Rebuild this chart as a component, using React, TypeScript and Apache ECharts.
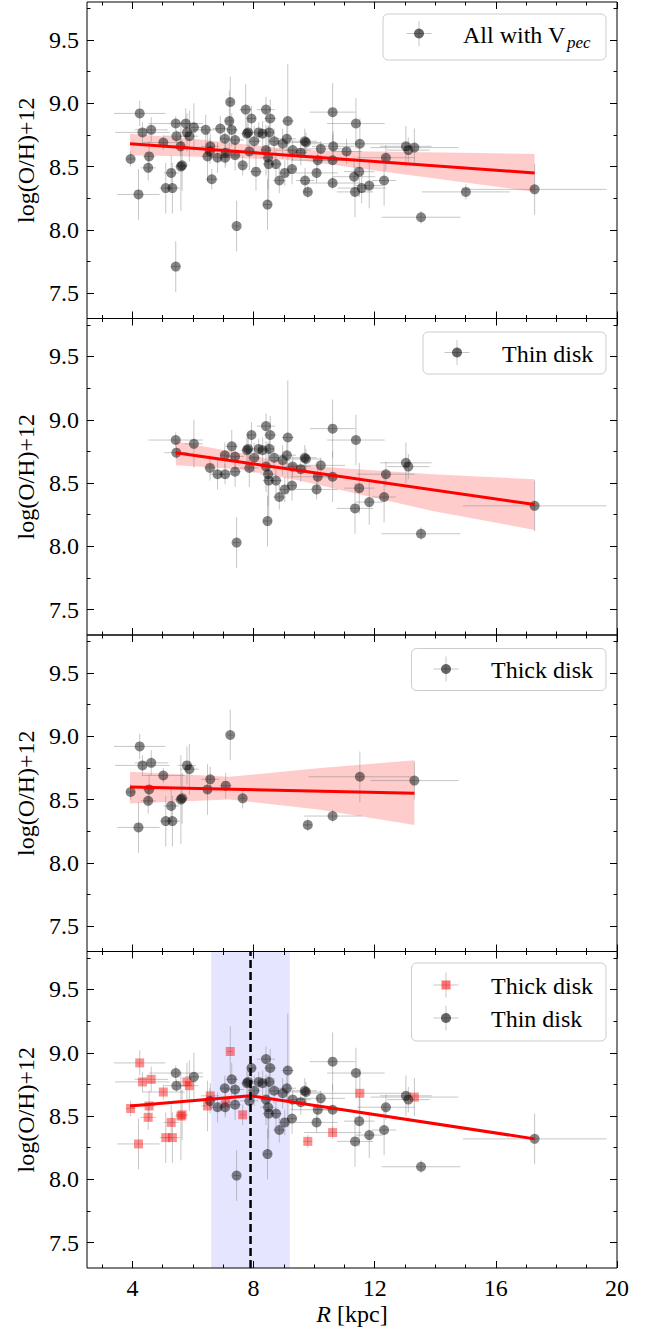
import React, { useEffect, useRef } from 'react';
import * as echarts from 'echarts';

const FONT = "'Liberation Serif', 'Times New Roman', Times, serif";

// Each star: [R (kpc), log(O/H)+12, error in R, error in log(O/H)+12]
const thinDisk: number[][] = [
  [5.43, 8.84, 0.9, 0.06], [5.45, 8.74, 0.4, 0.05], [6.03, 8.81, 0.3, 0.19], [6.56, 8.62, 0.2, 0.1],
  [6.81, 8.57, 0.25, 0.12], [7.06, 8.57, 0.2, 0.08], [7.05, 8.72, 0.15, 0.1], [7.28, 8.79, 0.2, 0.13],
  [7.39, 8.59, 0.2, 0.12], [7.44, 8.03, 0.1, 0.2], [7.39, 8.71, 0.3, 0.1], [7.78, 8.76, 0.2, 0.1],
  [7.82, 8.77, 0.15, 0.12], [7.86, 8.62, 0.3, 0.15], [7.93, 8.88, 0.15, 0.1], [8.02, 8.7, 0.2, 0.12],
  [8.17, 8.77, 0.25, 0.08], [8.3, 8.76, 0.2, 0.1], [8.41, 8.95, 0.3, 0.1], [8.55, 8.88, 0.2, 0.15],
  [8.52, 8.77, 0.15, 0.1], [8.41, 8.63, 0.2, 0.2], [8.48, 8.57, 0.25, 0.25], [8.5, 8.52, 0.2, 0.3],
  [8.74, 8.52, 0.2, 0.1], [8.46, 8.2, 0.15, 0.2], [8.68, 8.7, 0.2, 0.1], [8.96, 8.68, 0.25, 0.12],
  [9.1, 8.72, 0.3, 0.1], [9.13, 8.86, 0.2, 0.45], [8.85, 8.39, 0.2, 0.1], [9.03, 8.45, 0.2, 0.1],
  [9.27, 8.48, 0.15, 0.12], [9.29, 8.63, 0.6, 0.08], [9.56, 8.61, 0.2, 0.1], [9.69, 8.7, 0.4, 0.1],
  [9.73, 8.69, 0.5, 0.08], [10.22, 8.64, 0.8, 0.06], [10.08, 8.45, 0.7, 0.08], [10.12, 8.55, 0.9, 0.1],
  [10.61, 8.93, 0.75, 0.23], [10.61, 8.55, 0.6, 0.2], [11.38, 8.84, 0.95, 0.2], [11.49, 8.46, 0.5, 0.2],
  [11.35, 8.3, 0.6, 0.2], [11.82, 8.35, 0.45, 0.18], [12.31, 8.39, 0.4, 0.2], [12.37, 8.57, 0.95, 0.1],
  [13.03, 8.66, 0.85, 0.16], [13.11, 8.63, 0.7, 0.1], [13.53, 8.1, 1.3, 0.05], [17.28, 8.32, 2.37, 0.2],
];

const thickDisk: number[][] = [
  [3.94, 8.56, 0.15, 0.06], [4.24, 8.92, 0.85, 0.1], [4.33, 8.77, 0.9, 0.08], [4.62, 8.79, 0.55, 0.1],
  [4.55, 8.58, 0.2, 0.12], [4.52, 8.49, 0.25, 0.1], [4.2, 8.28, 0.7, 0.2], [5.02, 8.69, 0.7, 0.06],
  [5.28, 8.45, 0.25, 0.14], [5.1, 8.33, 0.2, 0.2], [5.32, 8.33, 0.25, 0.2], [5.6, 8.5, 0.2, 0.35],
  [5.64, 8.51, 0.2, 0.2], [5.8, 8.77, 0.3, 0.15], [5.88, 8.74, 0.3, 0.2], [6.48, 8.58, 0.2, 0.2],
  [6.57, 8.66, 0.3, 0.1], [7.08, 8.61, 0.2, 0.1], [7.23, 9.01, 0.1, 0.2], [7.64, 8.51, 0.1, 0.08],
  [9.79, 8.3, 0.15, 0.05], [10.61, 8.37, 0.95, 0.05], [11.51, 8.68, 1.7, 0.2], [13.31, 8.65, 1.45, 0.15],
];

// stars of the full sample that belong to neither disk
const unassigned: number[][] = [
  [5.59, 8.66, 0.3, 0.08], [5.76, 8.84, 0.35, 0.12], [5.43, 7.71, 0.15, 0.2], [6.42, 8.79, 0.4, 0.12],
  [6.62, 8.4, 0.2, 0.08], [6.9, 8.8, 0.25, 0.1], [7.2, 8.86, 0.15, 0.24], [7.74, 8.95, 0.2, 0.2],
  [8.08, 8.46, 0.2, 0.15], [9.7, 8.39, 0.3, 0.1], [10.63, 8.66, 0.7, 0.12], [11.07, 8.62, 0.5, 0.1],
  [11.32, 8.42, 0.7, 0.15], [11.57, 8.33, 0.8, 0.12], [15.01, 8.3, 1.45, 0.06],
];

// gradient fits and their confidence bands
const allFitR = [3.92, 17.28];
const allFitOH = [8.68, 8.45];
const allBandR = [3.92, 6.0, 9.5, 12.0, 17.28];
const allBandHi = [8.76, 8.72, 8.63, 8.62, 8.6];
const allBandLo = [8.59, 8.58, 8.55, 8.47, 8.3];

const thinFitR = [5.43, 17.28];
const thinFitOH = [8.74, 8.33];
const thinBandR = [5.43, 7.5, 9.5, 13.9, 17.28];
const thinBandHi = [8.83, 8.74, 8.64, 8.57, 8.53];
const thinBandLo = [8.64, 8.61, 8.52, 8.28, 8.13];

const thickFitR = [3.92, 13.31];
const thickFitOH = [8.6, 8.55];
const thickBandR = [3.92, 7.2, 10.2, 13.31];
const thickBandHi = [8.72, 8.68, 8.75, 8.81];
const thickBandLo = [8.47, 8.5, 8.42, 8.3];

const brokenFitR = [3.92, 7.9, 17.28];
const brokenFitOH = [8.58, 8.66, 8.32];

const solarR = 7.9;
const solarRRange = [6.6, 9.2];

const xTicksMajor = [4, 8, 12, 16, 20];
const xTicksMinor = [3, 5, 6, 7, 9, 10, 11, 13, 14, 15, 17, 18, 19];
const yTicksMajor = [7.5, 8.0, 8.5, 9.0, 9.5];
const yTicksMinor = [7.75, 8.25, 8.75, 9.25, 9.75];

const X_MIN = 2.5;
const X_MAX = 20;
const Y_MIN = 7.3;
const Y_MAX = 9.8;

const GRID_LEFT = 87;
const GRID_RIGHT = 40;
const PANEL_TOPS = [2, 318.5, 635, 951.5];
const PANEL_H = 316.5;

const PT_COLOR = 'rgba(0,0,0,0.6)';
const SQ_COLOR = 'rgba(255,0,0,0.55)';
const ERR_COLOR = 'rgba(128,128,128,0.45)';
const FIT_COLOR = '#ff0000';

function pairs(R: number[], V: number[]) {
  return R.map((r, i) => [r, V[i]]);
}

function errorSeries(g: number, data: number[][]) {
  return {
    type: 'custom',
    xAxisIndex: 4 * g,
    yAxisIndex: 4 * g,
    silent: true,
    clip: true,
    z: 2,
    encode: { x: 0, y: 1 },
    data,
    renderItem: (_p: any, api: any) => {
      const r = api.value(0), oh = api.value(1), er = api.value(2), eo = api.value(3);
      const a = api.coord([r - er, oh]);
      const b = api.coord([r + er, oh]);
      const c = api.coord([r, oh - eo]);
      const d = api.coord([r, oh + eo]);
      const style = { stroke: ERR_COLOR, lineWidth: 1 };
      return {
        type: 'group',
        children: [
          { type: 'line', shape: { x1: a[0], y1: a[1], x2: b[0], y2: b[1] }, style },
          { type: 'line', shape: { x1: c[0], y1: c[1], x2: d[0], y2: d[1] }, style },
        ],
      };
    },
  };
}

function pointSeries(g: number, data: number[][], square = false) {
  return {
    type: 'scatter',
    xAxisIndex: 4 * g,
    yAxisIndex: 4 * g,
    silent: true,
    z: 3,
    symbol: square ? 'rect' : 'circle',
    symbolSize: square ? 9 : 10,
    itemStyle: { color: square ? SQ_COLOR : PT_COLOR, borderWidth: 0 },
    data: data.map((d) => [d[0], d[1]]),
  };
}

function bandSeries(g: number, R: number[], hi: number[], lo: number[]) {
  return {
    type: 'custom',
    xAxisIndex: 4 * g,
    yAxisIndex: 4 * g,
    silent: true,
    z: 1,
    data: [[R[0], hi[0]]],
    renderItem: (_p: any, api: any) => {
      const top = R.map((r, i) => api.coord([r, hi[i]]));
      const bot = R.map((r, i) => api.coord([r, lo[i]])).reverse();
      return { type: 'polygon', shape: { points: top.concat(bot) }, style: { fill: 'rgba(255,0,0,0.2)' } };
    },
  };
}

function fitSeries(g: number, R: number[], V: number[]) {
  return {
    type: 'line',
    xAxisIndex: 4 * g,
    yAxisIndex: 4 * g,
    silent: true,
    z: 5,
    symbol: 'none',
    lineStyle: { color: FIT_COLOR, width: 3 },
    data: pairs(R, V),
  };
}

function buildAxes() {
  const xAxes: any[] = [];
  const yAxes: any[] = [];
  const tick = (vals: number[], len: number) => ({
    show: true, inside: true, length: len, customValues: vals, lineStyle: { color: '#000', width: 1 },
  });
  for (let g = 0; g < 4; g++) {
    const bx = {
      type: 'value', gridIndex: g, min: X_MIN, max: X_MAX,
      splitLine: { show: false }, axisLine: { show: false, onZero: false },
    };
    xAxes.push({
      ...bx, position: 'bottom', axisTick: tick(xTicksMajor, 7),
      axisLabel: {
        show: g === 3, customValues: xTicksMajor, fontSize: 24, fontFamily: FONT, color: '#000', margin: 8,
        formatter: (v: number) => String(v),
      },
      name: g === 3 ? '{i|R} [kpc]' : '',
      nameLocation: 'middle',
      nameGap: 34,
      nameTextStyle: {
        fontSize: 24, fontFamily: FONT, color: '#000',
        rich: { i: { fontSize: 24, fontFamily: FONT, fontStyle: 'italic', color: '#000' } },
      },
    });
    xAxes.push({ ...bx, position: 'bottom', axisTick: tick(xTicksMinor, 3.5), axisLabel: { show: false } });
    xAxes.push({ ...bx, position: 'top', axisTick: tick(xTicksMajor, 7), axisLabel: { show: false } });
    xAxes.push({ ...bx, position: 'top', axisTick: tick(xTicksMinor, 3.5), axisLabel: { show: false } });

    const by = {
      type: 'value', gridIndex: g, min: Y_MIN, max: Y_MAX,
      splitLine: { show: false }, axisLine: { show: false, onZero: false },
    };
    yAxes.push({
      ...by, position: 'left', axisTick: tick(yTicksMajor, 7),
      axisLabel: {
        customValues: yTicksMajor, fontSize: 24, fontFamily: FONT, color: '#000', margin: 8,
        formatter: (v: number) => v.toFixed(1),
      },
      name: 'log(O/H)+12',
      nameLocation: 'middle',
      nameGap: 48,
      nameTextStyle: { fontSize: 24, fontFamily: FONT, color: '#000' },
    });
    yAxes.push({ ...by, position: 'left', axisTick: tick(yTicksMinor, 3.5), axisLabel: { show: false } });
    yAxes.push({ ...by, position: 'right', axisTick: tick(yTicksMajor, 7), axisLabel: { show: false } });
    yAxes.push({ ...by, position: 'right', axisTick: tick(yTicksMinor, 3.5), axisLabel: { show: false } });
  }
  return { xAxes, yAxes };
}

function legendBox(x: number, y: number, w: number, h: number) {
  return {
    type: 'rect', z: 100, silent: true,
    shape: { x, y, width: w, height: h, r: 5 },
    style: { fill: 'rgba(255,255,255,0.8)', stroke: '#cccccc', lineWidth: 1 },
  };
}

function legendMarker(cx: number, cy: number, square = false) {
  const els: any[] = [
    { type: 'line', z: 101, silent: true, shape: { x1: cx - 12.5, y1: cy, x2: cx + 12.5, y2: cy }, style: { stroke: ERR_COLOR, lineWidth: 1 } },
    { type: 'line', z: 101, silent: true, shape: { x1: cx, y1: cy - 12.5, x2: cx, y2: cy + 12.5 }, style: { stroke: ERR_COLOR, lineWidth: 1 } },
  ];
  if (square) {
    els.push({ type: 'rect', z: 102, silent: true, shape: { x: cx - 4.5, y: cy - 4.5, width: 9, height: 9 }, style: { fill: SQ_COLOR } });
  } else {
    els.push({ type: 'circle', z: 102, silent: true, shape: { cx, cy, r: 5 }, style: { fill: PT_COLOR } });
  }
  return els;
}

function legendText(x: number, y: number, text: string, size = 24, italic = false) {
  return {
    type: 'text', z: 103, silent: true, x, y,
    style: {
      text, fontSize: size, fontFamily: FONT, fontStyle: italic ? 'italic' : 'normal',
      fill: '#000', align: 'left', verticalAlign: 'middle',
    },
  };
}

function buildOption() {
  const { xAxes, yAxes } = buildAxes();
  const allStars = thinDisk.concat(thickDisk, unassigned);

  const series: any[] = [
    // panel 1: whole sample
    bandSeries(0, allBandR, allBandHi, allBandLo),
    errorSeries(0, allStars),
    pointSeries(0, allStars),
    fitSeries(0, allFitR, allFitOH),
    // panel 2: thin disk
    bandSeries(1, thinBandR, thinBandHi, thinBandLo),
    errorSeries(1, thinDisk),
    pointSeries(1, thinDisk),
    fitSeries(1, thinFitR, thinFitOH),
    // panel 3: thick disk
    bandSeries(2, thickBandR, thickBandHi, thickBandLo),
    errorSeries(2, thickDisk),
    pointSeries(2, thickDisk),
    fitSeries(2, thickFitR, thickFitOH),
    // panel 4: both populations with broken gradient
    {
      type: 'custom', xAxisIndex: 12, yAxisIndex: 12, silent: true, z: 0,
      data: [[solarRRange[0], Y_MIN]],
      renderItem: (_p: any, api: any) => {
        const a = api.coord([solarRRange[0], Y_MAX]);
        const b = api.coord([solarRRange[1], Y_MIN]);
        return {
          type: 'rect',
          shape: { x: a[0], y: a[1], width: b[0] - a[0], height: b[1] - a[1] },
          style: { fill: 'rgba(0,0,255,0.1)' },
        };
      },
    },
    errorSeries(3, thickDisk),
    pointSeries(3, thickDisk, true),
    errorSeries(3, thinDisk),
    pointSeries(3, thinDisk),
    fitSeries(3, brokenFitR, brokenFitOH),
    {
      type: 'line', xAxisIndex: 12, yAxisIndex: 12, silent: true, z: 6, symbol: 'none',
      lineStyle: { color: '#000', width: 2.5, type: [8, 4] },
      data: [[solarR, Y_MIN], [solarR, Y_MAX]],
    },
  ];

  const graphics: any[] = [
    legendBox(383, 14, 223, 46),
    ...legendMarker(419, 33.5),
    legendText(463, 35, 'All with V'),
    legendText(567, 42, 'pec', 17, true),

    legendBox(423, 332, 183, 42),
    ...legendMarker(457, 352.5),
    legendText(502, 353.5, 'Thin disk'),

    legendBox(411.5, 648.5, 194.5, 42),
    ...legendMarker(446, 669),
    legendText(491, 670, 'Thick disk'),

    legendBox(411.5, 963, 194.5, 78),
    ...legendMarker(446, 985, true),
    legendText(491, 986, 'Thick disk'),
    ...legendMarker(446, 1018),
    legendText(491, 1019, 'Thin disk'),
  ];

  return {
    animation: false,
    backgroundColor: '#ffffff',
    textStyle: { fontFamily: FONT },
    grid: PANEL_TOPS.map((t) => ({
      left: GRID_LEFT, right: GRID_RIGHT, top: t, height: PANEL_H,
      show: true, borderColor: '#000', borderWidth: 1, backgroundColor: 'transparent',
    })),
    xAxis: xAxes,
    yAxis: yAxes,
    series,
    graphic: { elements: graphics },
  };
}

export default function App() {
  const ref = useRef<HTMLDivElement>(null);
  useEffect(() => {
    if (!ref.current) return;
    const chart = echarts.init(ref.current, null, { renderer: 'svg' });
    chart.setOption(buildOption() as any);
    return () => chart.dispose();
  }, []);
  return (
    <div
      ref={ref}
      style={{ position: 'absolute', left: 0, top: 0, width: 657, height: 1333, background: '#fff' }}
    />
  );
}
